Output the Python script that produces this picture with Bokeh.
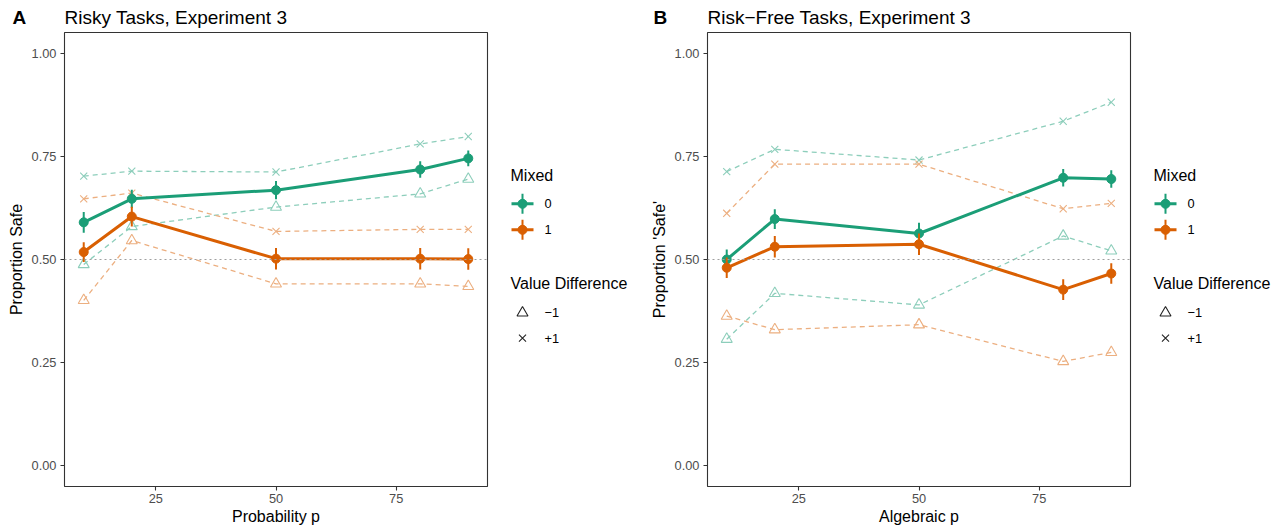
from bokeh.plotting import figure
from bokeh.layouts import row
from bokeh.models import Range1d, FixedTicker, NumeralTickFormatter, Span, Title, ColumnDataSource
from bokeh.core.properties import value
from bokeh.embed import file_html
from bokeh.resources import INLINE

# ---------------- data ----------------
p_levels = [10, 20, 50, 80, 90]

# Panel A: Risky Tasks, Experiment 3
A_mixed0 = [0.590, 0.647, 0.668, 0.718, 0.745]
A_mixed0_err = [0.025, 0.022, 0.022, 0.020, 0.019]
A_mixed1 = [0.518, 0.604, 0.502, 0.502, 0.501]
A_mixed1_err = [0.024, 0.024, 0.026, 0.026, 0.026]
A_m0_vd_neg = [0.488, 0.580, 0.627, 0.659, 0.695]
A_m0_vd_pos = [0.702, 0.714, 0.712, 0.780, 0.798]
A_m1_vd_neg = [0.401, 0.546, 0.441, 0.441, 0.435]
A_m1_vd_pos = [0.647, 0.661, 0.568, 0.573, 0.573]

# Panel B: Risk-Free Tasks, Experiment 3
B_mixed0 = [0.500, 0.598, 0.563, 0.698, 0.695]
B_mixed0_err = [0.024, 0.024, 0.026, 0.021, 0.021]
B_mixed1 = [0.480, 0.531, 0.537, 0.427, 0.466]
B_mixed1_err = [0.025, 0.026, 0.026, 0.025, 0.025]
B_m0_vd_neg = [0.307, 0.418, 0.390, 0.557, 0.521]
B_m0_vd_pos = [0.713, 0.767, 0.741, 0.835, 0.881]
B_m1_vd_neg = [0.363, 0.330, 0.342, 0.253, 0.275]
B_m1_vd_pos = [0.612, 0.731, 0.731, 0.623, 0.636]

x_ticks = [25, 50, 75]
y_ticks = [0.0, 0.25, 0.5, 0.75, 1.0]
chance_level = 0.5

mixed_labels = ["0", "1"]
vd_labels = ["\u22121", "+1"]

# ---------------- style ----------------
FONT = "Liberation Sans"
GREEN = "#1B9E77"
ORANGE = "#D95F02"
GREEN_LIGHT = "#8DCEBB"
ORANGE_LIGHT = "#ECAF80"
H = 527
TOP, BOTTOM = 32, 41


def make_panel(tag, title, xlabel, ylabel, mixed0, mixed0_err, mixed1, mixed1_err,
               m0_neg, m0_pos, m1_neg, m1_pos, ml, width, tag_offset):
    p = figure(width=width, height=H, x_range=Range1d(6, 94), y_range=Range1d(-0.05, 1.05),
               output_backend="svg", toolbar_location=None, title=None,
               min_border_left=ml, min_border_right=3, min_border_top=TOP, min_border_bottom=BOTTOM)
    p.background_fill_color = "white"
    p.border_fill_color = "white"
    p.outline_line_color = "#333333"
    p.outline_line_width = 1.1
    p.grid.visible = False

    for ax in (p.xaxis[0], p.yaxis[0]):
        ax.axis_line_color = None
        ax.major_tick_line_color = "#333333"
        ax.major_tick_line_width = 1.1
        ax.major_tick_out = 4
        ax.major_tick_in = 0
        ax.minor_tick_line_color = None
        ax.major_label_text_font = FONT
        ax.major_label_text_font_size = "12.8px"
        ax.major_label_text_color = "#4D4D4D"
        ax.axis_label_text_font = FONT
        ax.axis_label_text_font_size = "16px"
        ax.axis_label_text_font_style = "normal"
        ax.axis_label_text_color = "black"

    p.xaxis.ticker = FixedTicker(ticks=x_ticks)
    p.yaxis.ticker = FixedTicker(ticks=y_ticks)
    p.yaxis.formatter = NumeralTickFormatter(format="0.00")
    p.xaxis.axis_label = xlabel
    p.yaxis.axis_label = ylabel
    p.xaxis.major_label_standoff = 3
    p.yaxis.major_label_standoff = 4
    p.xaxis.axis_label_standoff = 2
    p.yaxis.axis_label_standoff = 4

    p.add_layout(Span(location=chance_level, dimension="width", line_color="#A0A0A0",
                      line_dash="2 3", line_width=1.2))

    # dashed per-value-difference lines
    for neg, pos, col in ((m0_neg, m0_pos, GREEN_LIGHT), (m1_neg, m1_pos, ORANGE_LIGHT)):
        for vals, marker in ((neg, "triangle"), (pos, "x")):
            src = ColumnDataSource(dict(x=p_levels, y=vals))
            p.line("x", "y", source=src, line_color=col, line_width=1.3, line_dash="5 4")
            p.scatter("x", "y", source=src, marker=marker, size=11 if marker == "triangle" else 10,
                      line_color=col, fill_color=None, line_width=1.1)

    # solid means with error bars
    for vals, errs, col in ((mixed0, mixed0_err, GREEN), (mixed1, mixed1_err, ORANGE)):
        src = ColumnDataSource(dict(x=p_levels, y=vals,
                                    lo=[v - e for v, e in zip(vals, errs)],
                                    hi=[v + e for v, e in zip(vals, errs)]))
        p.line("x", "y", source=src, line_color=col, line_width=3)
        p.segment("x", "lo", "x", "hi", source=src, line_color=col, line_width=2)
        p.scatter("x", "y", source=src, marker="circle", size=9, fill_color=col, line_color=col)

    # titles in the panel above the frame (first added = nearest the frame)
    p.add_layout(Title(text=title, align="left", offset=0, standoff=9, vertical_align="bottom",
                       text_font=FONT, text_font_size="19px", text_font_style="normal",
                       text_color="black"), "above")
    p.add_layout(Title(text=tag, align="left", offset=tag_offset, standoff=-55,
                       vertical_align="bottom", text_font=FONT, text_font_size="19px",
                       text_font_style="bold", text_color="black"), "above")
    return p


def make_legend(width):
    lg = figure(width=width, height=H, x_range=Range1d(0, width), y_range=Range1d(H - BOTTOM, TOP),
                output_backend="svg", toolbar_location=None, title=None,
                min_border=0, min_border_left=0, min_border_right=0,
                min_border_top=TOP, min_border_bottom=BOTTOM)
    lg.axis.visible = False
    lg.grid.visible = False
    lg.outline_line_color = None
    lg.background_fill_color = "white"
    lg.border_fill_color = "white"

    tx, kx, lx = 20, 32, 54
    mixed_y = [203.3, 229.3]
    vd_y = [312.3, 337.7]
    lg.text(x=[tx, tx], y=[175, 283.3], text=["Mixed", "Value Difference"],
            text_font=value(FONT), text_font_size="16px", text_baseline="middle",
            text_align="left", text_color="black")
    for yy, col in zip(mixed_y, (GREEN, ORANGE)):
        lg.segment(x0=[kx - 11], y0=[yy], x1=[kx + 11], y1=[yy], line_color=col, line_width=3)
        lg.segment(x0=[kx], y0=[yy - 10], x1=[kx], y1=[yy + 10], line_color=col, line_width=2)
        lg.scatter(x=[kx], y=[yy], marker="circle", size=9, fill_color=col, line_color=col)
    lg.text(x=[lx, lx], y=mixed_y, text=mixed_labels, text_font=value(FONT),
            text_font_size="12.8px", text_baseline="middle", text_align="left", text_color="black")
    lg.scatter(x=[kx], y=[vd_y[0]], marker="triangle", size=11, fill_color=None,
               line_color="#222222", line_width=1.1)
    lg.scatter(x=[kx], y=[vd_y[1]], marker="x", size=10, line_color="#222222", line_width=1.1)
    lg.text(x=[lx, lx], y=vd_y, text=vd_labels, text_font=value(FONT),
            text_font_size="12.8px", text_baseline="middle", text_align="left", text_color="black")
    return lg


pA = make_panel("A", "Risky Tasks, Experiment 3", "Probability p", "Proportion Safe",
                A_mixed0, A_mixed0_err, A_mixed1, A_mixed1_err,
                A_m0_vd_neg, A_m0_vd_pos, A_m1_vd_neg, A_m1_vd_pos,
                ml=64, width=490, tag_offset=-52)
lA = make_legend(150)
pB = make_panel("B", "Risk\u2212Free Tasks, Experiment 3", "Algebraic p", "Proportion 'Safe'",
                B_mixed0, B_mixed0_err, B_mixed1, B_mixed1_err,
                B_m0_vd_neg, B_m0_vd_pos, B_m1_vd_neg, B_m1_vd_pos,
                ml=67, width=493, tag_offset=-54)
lB = make_legend(148)

layout = row(pA, lA, pB, lB, spacing=0)
open("out.html", "w").write(file_html(layout, INLINE))
